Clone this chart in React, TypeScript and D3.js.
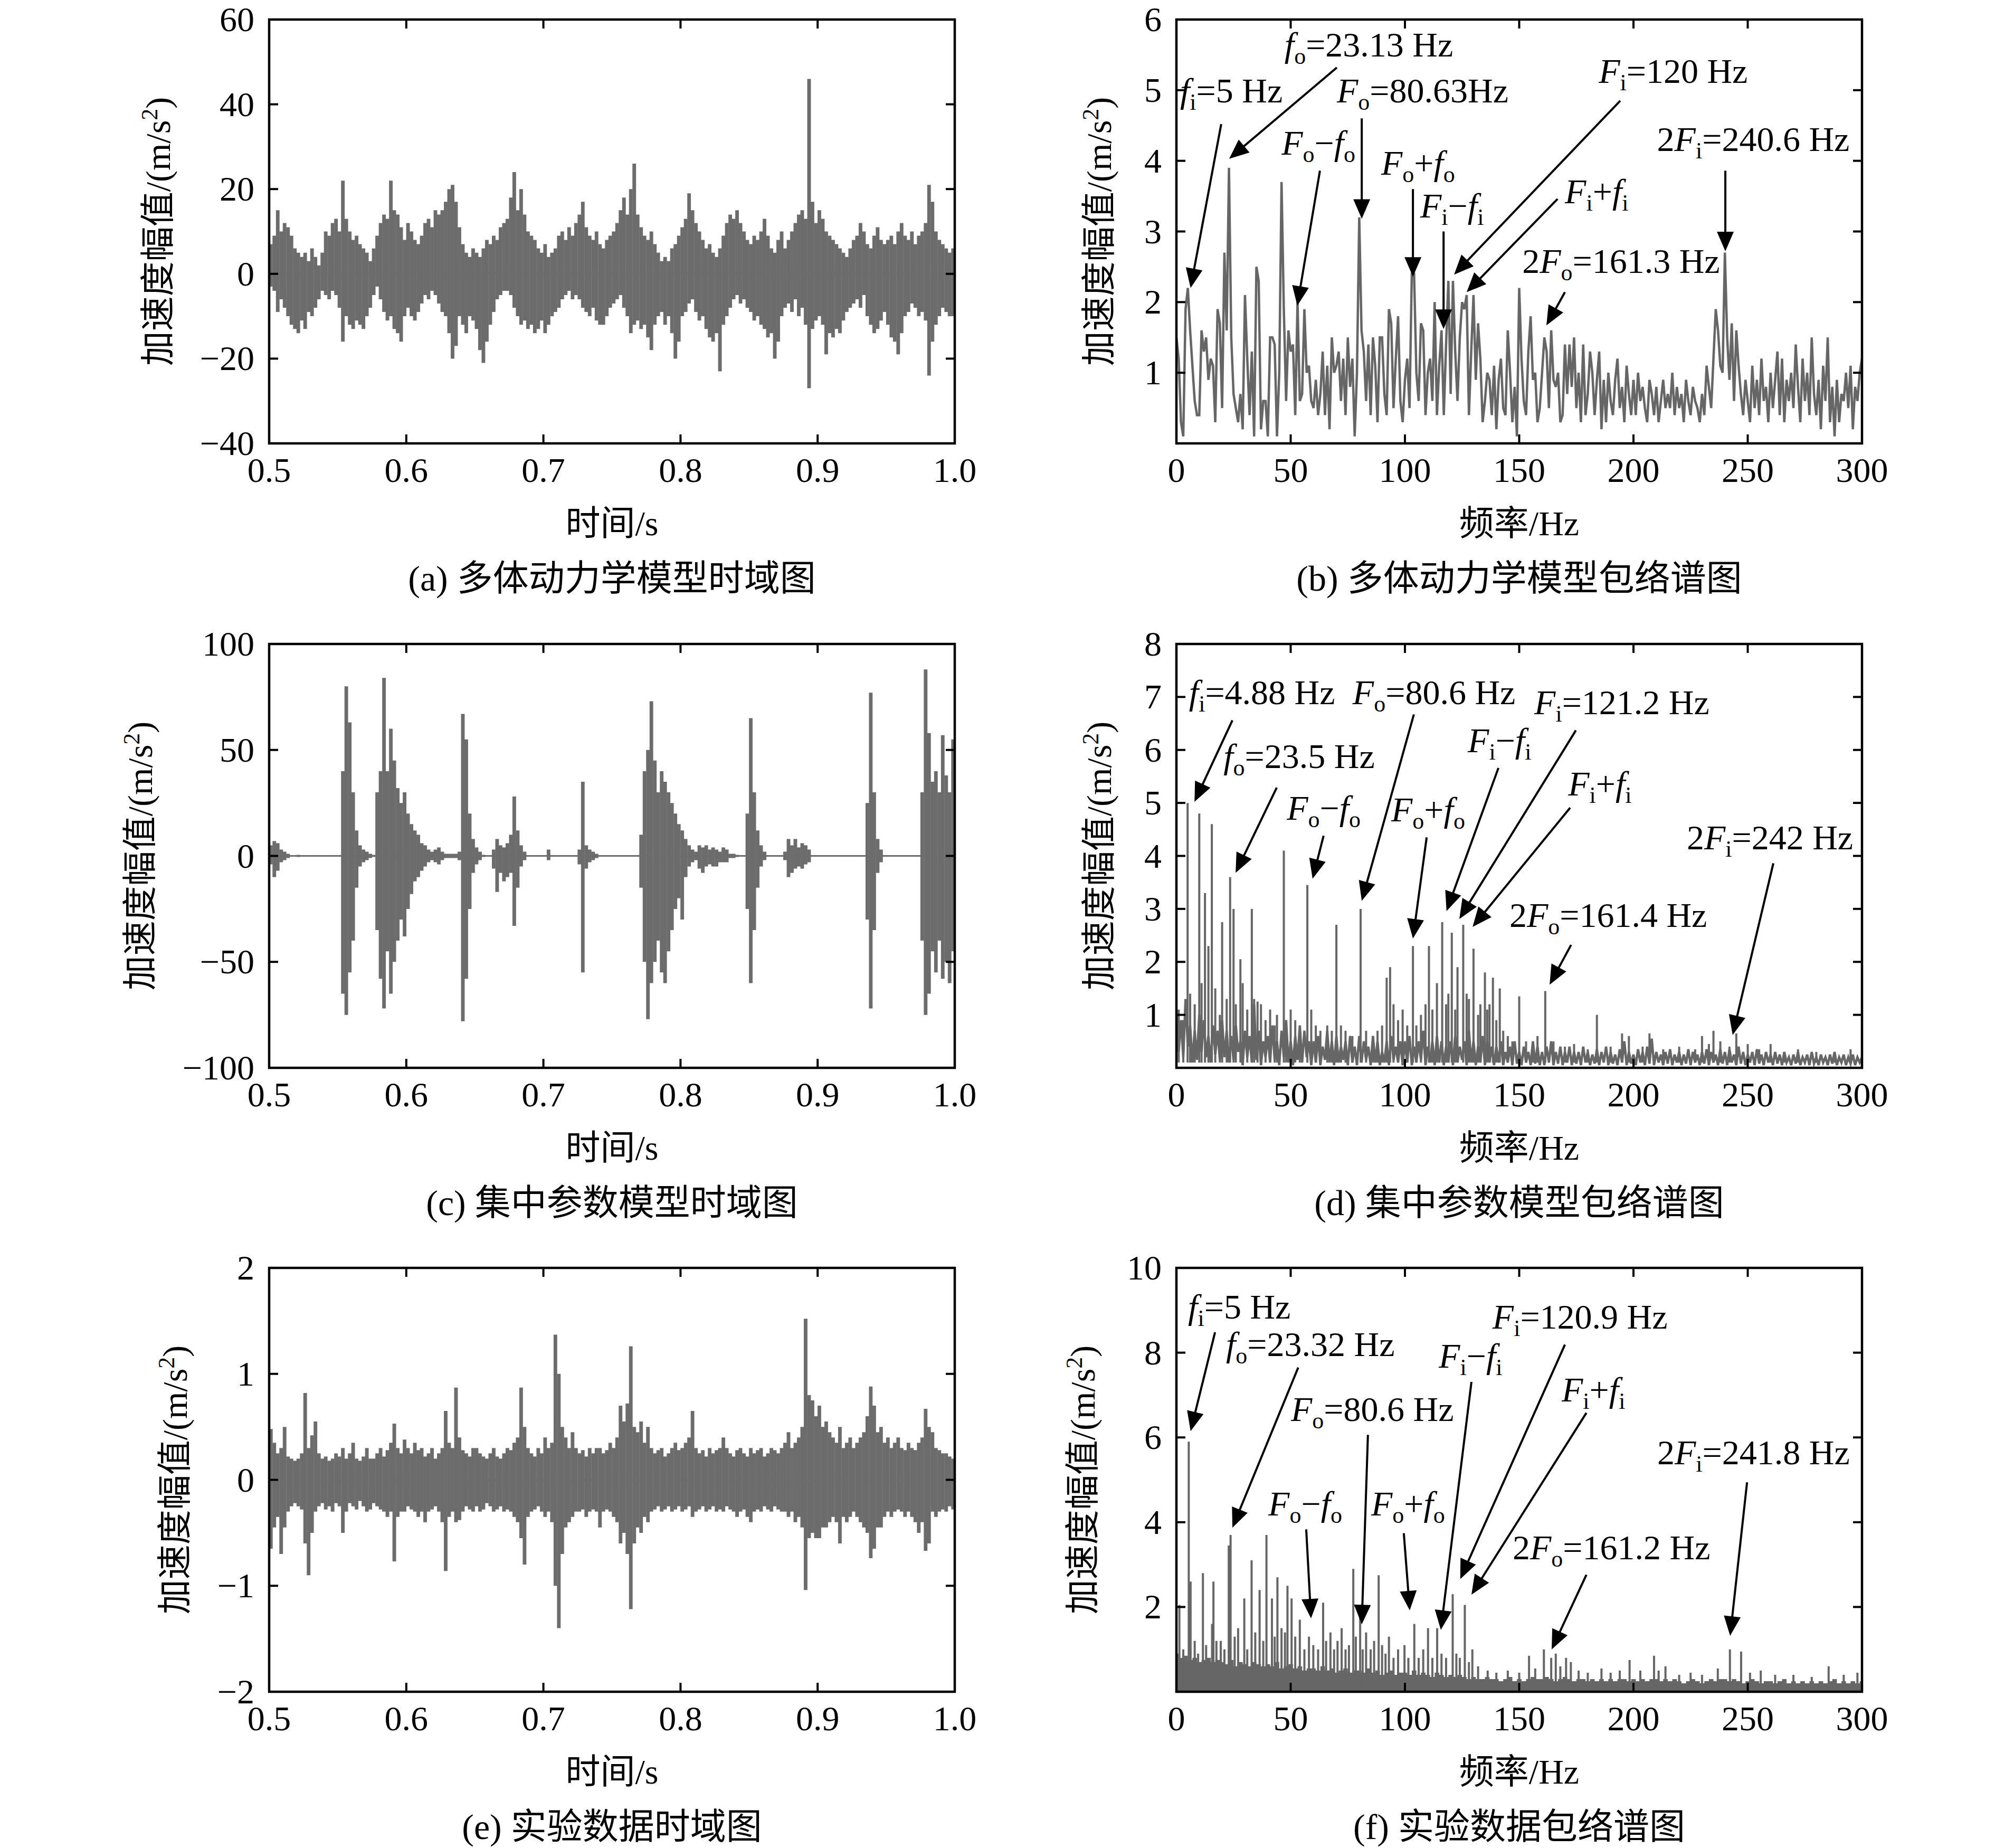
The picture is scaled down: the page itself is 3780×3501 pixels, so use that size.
import React from 'react';
import * as d3 from 'd3';

// ---------------- DATA ----------------
const T_START = 0.5;
const T_STEP = 0.0025;

const timeXTicks = [0.5, 0.6, 0.7, 0.8, 0.9, 1.0];
const freqXTicks = [0, 50, 100, 150, 200, 250, 300];

// (a) multibody model time domain: per-bin max / min (m/s^2)
const aMax = [
  7, 9, 15, 10, 12, 11, 9, 6, 5, 4,
  5, 3, 6, 4, 2, 5, 10, 9, 12, 13,
  10, 22, 13, 10, 8, 9, 7, 6, 5, 3,
  6, 9, 12, 14, 13, 22, 15, 14, 11, 8,
  12, 10, 8, 7, 9, 12, 13, 11, 15, 14,
  15, 17, 20, 21, 17, 11, 7, 5, 4, 6,
  5, 4, 6, 8, 7, 9, 8, 11, 12, 13,
  18, 24, 15, 20, 14, 10, 9, 8, 6, 5,
  7, 4, 5, 6, 9, 10, 8, 11, 9, 12,
  14, 17, 11, 9, 8, 10, 7, 6, 8, 9,
  10, 12, 15, 18, 14, 20, 26, 14, 11, 9,
  8, 10, 7, 5, 3, 4, 3, 6, 7, 9,
  11, 13, 19, 15, 12, 10, 8, 6, 7, 5,
  4, 6, 9, 12, 14, 13, 15, 12, 10, 8,
  7, 9, 8, 10, 13, 9, 6, 5, 8, 10,
  6, 8, 10, 12, 14, 15, 13, 46, 17, 12,
  15, 13, 10, 9, 8, 7, 6, 5, 4, 6,
  8, 9, 12, 10, 7, 6, 9, 11, 8, 7,
  8, 9, 7, 10, 12, 9, 8, 10, 7, 9,
  10, 12, 21, 17, 10, 8, 7, 6, 5, 6,
];
const aMin = [
  -3, -4, -9, -6, -8, -10, -12, -13, -14, -11,
  -13, -9, -10, -8, -6, -4, -5, -6, -4, -5,
  -8, -16, -10, -12, -13, -11, -12, -13, -10, -8,
  -5, -3, -6, -9, -11, -10, -13, -14, -16, -10,
  -8, -10, -11, -9, -7, -5, -6, -4, -5, -7,
  -9, -10, -14, -20, -17, -10, -12, -14, -10, -11,
  -13, -18, -21, -16, -12, -9, -6, -5, -4, -4,
  -5, -8, -10, -12, -11, -13, -12, -14, -13, -11,
  -14, -12, -10, -9, -8, -6, -5, -4, -6, -5,
  -6, -8, -9, -10, -8, -11, -12, -12, -10, -8,
  -7, -6, -5, -8, -10, -14, -12, -11, -13, -12,
  -15, -18, -12, -10, -9, -12, -10, -14, -20, -16,
  -10, -9, -7, -6, -9, -11, -10, -13, -15, -16,
  -14, -23, -12, -10, -8, -6, -5, -7, -6, -8,
  -9, -11, -10, -12, -13, -15, -14, -20, -16, -10,
  -8, -7, -9, -6, -10, -8, -12, -27, -13, -11,
  -10, -12, -19, -14, -15, -13, -14, -11, -9, -8,
  -7, -6, -8, -5, -10, -12, -14, -13, -11, -9,
  -12, -15, -16, -19, -14, -10, -9, -7, -8, -10,
  -9, -11, -24, -16, -12, -10, -8, -9, -10, -10,
];

// (c) lumped parameter model time domain
const cMax = [
  5, 7, 6, 3, 2, 1, 0.3, 0.3, 0.5, 0.3,
  0.3, 0.3, 0.3, 0.3, 0.3, 0.3, 0.3, 0.3, 0.3, 0.3,
  0.3, 40, 80, 63, 30, 12, 5, 3, 2, 1,
  0.5, 30, 40, 84, 40, 60, 45, 32, 25, 30,
  20, 15, 12, 10, 6, 5, 3, 2, 3, 4,
  2, 1, 1, 1, 1, 2, 67, 55, 20, 8,
  4, 2, 0.5, 0.3, 0.3, 3, 8, 5, 4, 6,
  10, 28, 12, 5, 2, 0.3, 0.3, 0.3, 0.3, 0.3,
  0.3, 3, 0.3, 0.3, 0.3, 0.3, 0.3, 0.3, 0.3, 0.3,
  3, 35, 5, 3, 2, 1, 0.3, 0.3, 0.3, 0.3,
  0.3, 0.3, 0.3, 0.3, 0.3, 0.3, 0.3, 0.3, 10, 40,
  50, 73, 45, 30, 40, 35, 30, 25, 20, 15,
  12, 8, 5, 3, 2, 5, 4, 5, 3, 4,
  3, 2, 4, 3, 1, 1, 0.5, 0.3, 0.3, 20,
  65, 30, 12, 5, 2, 0.3, 0.3, 0.3, 0.3, 0.3,
  2, 8, 5, 8, 4, 6, 5, 3, 0.3, 0.3,
  0.3, 0.3, 0.3, 0.3, 0.3, 0.3, 0.3, 0.3, 0.3, 0.3,
  0.3, 0.3, 0.3, 0.3, 25, 77, 30, 8, 3, 0.3,
  0.3, 0.3, 0.3, 0.3, 0.3, 0.3, 0.3, 0.3, 0.3, 0.3,
  30, 88, 58, 35, 40, 30, 57, 38, 30, 55,
];
const cMin = [
  -4, -10, -7, -3, -2, -1, -0.3, -0.3, -0.5, -0.3,
  -0.3, -0.3, -0.3, -0.3, -0.3, -0.3, -0.3, -0.3, -0.3, -0.3,
  -0.3, -65, -75, -55, -40, -15, -5, -3, -2, -1,
  -0.5, -35, -58, -72, -45, -65, -50, -40, -30, -38,
  -25, -18, -12, -10, -7, -5, -3, -2, -3, -4,
  -2, -1, -1, -1, -1, -2, -78, -58, -25, -8,
  -4, -2, -0.5, -0.3, -0.3, -6, -17, -8, -12, -10,
  -8, -33, -15, -5, -2, -0.3, -0.3, -0.3, -0.3, -0.3,
  -0.3, -2, -0.3, -0.3, -0.3, -0.3, -0.3, -0.3, -0.3, -0.3,
  -4, -55, -6, -3, -2, -1, -0.3, -0.3, -0.3, -0.3,
  -0.3, -0.3, -0.3, -0.3, -0.3, -0.3, -0.3, -0.3, -15, -50,
  -77, -60, -50, -40, -55, -60, -45, -35, -25, -20,
  -30, -10, -5, -3, -2, -6, -8, -5, -4, -5,
  -5, -3, -3, -3, -1, -1, -0.5, -0.3, -0.3, -25,
  -60, -35, -15, -5, -2, -0.3, -0.3, -0.3, -0.3, -0.3,
  -2, -10, -8, -6, -5, -6, -4, -3, -0.3, -0.3,
  -0.3, -0.3, -0.3, -0.3, -0.3, -0.3, -0.3, -0.3, -0.3, -0.3,
  -0.3, -0.3, -0.3, -0.3, -30, -72, -35, -8, -3, -0.3,
  -0.3, -0.3, -0.3, -0.3, -0.3, -0.3, -0.3, -0.3, -0.3, -0.3,
  -40, -75, -65, -45, -55, -40, -58, -50, -60, -45,
];

// (e) experimental time domain
const eMax = [
  0.48, 0.35, 0.25, 0.3, 0.5, 0.22, 0.2, 0.18, 0.2, 0.25,
  0.82, 0.3, 0.42, 0.55, 0.25, 0.2, 0.22, 0.18, 0.2, 0.25,
  0.22, 0.3, 0.2, 0.25, 0.35, 0.2, 0.18, 0.22, 0.3, 0.2,
  0.2, 0.25, 0.3, 0.22, 0.28, 0.35, 0.53, 0.3, 0.25, 0.38,
  0.3, 0.25, 0.35, 0.28, 0.3, 0.22, 0.25, 0.3, 0.2, 0.25,
  0.3, 0.65, 0.35, 0.3, 0.87, 0.4, 0.28, 0.25, 0.22, 0.3,
  0.3, 0.25, 0.22, 0.2, 0.25, 0.3, 0.22, 0.2, 0.25, 0.3,
  0.28, 0.35, 0.4, 0.87, 0.5, 0.3, 0.25, 0.22, 0.3, 0.25,
  0.4, 0.3, 0.35, 1.37, 1.0, 0.5, 0.4, 0.3, 0.45, 0.3,
  0.25, 0.28, 0.22, 0.3, 0.25, 0.3, 0.3, 0.25, 0.28, 0.35,
  0.3, 0.4, 0.7, 0.55, 0.72, 1.26, 0.5, 0.45, 0.55, 0.35,
  0.5, 0.3, 0.25, 0.28, 0.3, 0.22, 0.25, 0.3, 0.35, 0.28,
  0.3, 0.35, 0.4, 0.65, 0.3, 0.25, 0.28, 0.22, 0.3, 0.25,
  0.28, 0.3, 0.4, 0.3, 0.25, 0.22, 0.28, 0.3, 0.25, 0.22,
  0.3, 0.25, 0.28, 0.3, 0.22, 0.25, 0.3, 0.28, 0.25, 0.3,
  0.35, 0.45, 0.3, 0.35, 0.4, 0.5, 1.52, 0.8, 0.75, 0.6,
  0.7, 0.5, 0.55, 0.45, 0.4, 0.35, 0.5, 0.3, 0.35, 0.4,
  0.3, 0.35, 0.4, 0.45, 0.6, 0.88, 0.7, 0.45, 0.5, 0.35,
  0.4, 0.3, 0.35, 0.4, 0.3, 0.28, 0.35, 0.3, 0.28, 0.35,
  0.4, 0.67, 0.5, 0.45, 0.3, 0.28, 0.25, 0.25, 0.22, 0.2,
];
const eMin = [
  -0.65, -0.45, -0.35, -0.7, -0.45, -0.3, -0.25, -0.22, -0.25, -0.28,
  -0.6, -0.9, -0.5, -0.3, -0.25, -0.22, -0.28, -0.25, -0.3, -0.22,
  -0.25, -0.5, -0.3, -0.22, -0.25, -0.28, -0.2, -0.25, -0.3, -0.28,
  -0.22, -0.25, -0.28, -0.3, -0.35, -0.3, -0.77, -0.35, -0.3, -0.3,
  -0.25, -0.28, -0.3, -0.35, -0.3, -0.4, -0.3, -0.28, -0.25, -0.3,
  -0.4, -0.86, -0.35, -0.3, -0.4, -0.38, -0.3, -0.25, -0.28, -0.3,
  -0.25, -0.3, -0.28, -0.22, -0.25, -0.3, -0.28, -0.25, -0.3, -0.28,
  -0.3, -0.35, -0.4, -0.55, -0.8, -0.35, -0.3, -0.28, -0.25, -0.3,
  -0.35, -0.3, -0.4, -1.0, -1.4, -0.7, -0.45, -0.4, -0.35, -0.3,
  -0.3, -0.28, -0.35, -0.3, -0.28, -0.3, -0.45, -0.3, -0.28, -0.3,
  -0.35, -0.4, -0.6, -0.5, -0.7, -1.22, -0.6, -0.45, -0.5, -0.35,
  -0.4, -0.3, -0.28, -0.25, -0.3, -0.28, -0.25, -0.3, -0.28, -0.25,
  -0.3, -0.28, -0.25, -0.35, -0.3, -0.28, -0.25, -0.3, -0.28, -0.25,
  -0.3, -0.28, -0.3, -0.25, -0.28, -0.3, -0.35, -0.3, -0.28, -0.35,
  -0.4, -0.3, -0.28, -0.3, -0.25, -0.28, -0.3, -0.25, -0.28, -0.3,
  -0.3, -0.35, -0.3, -0.4, -0.35, -0.45, -1.04, -0.55, -0.5, -0.55,
  -0.55, -0.45, -0.45, -0.4, -0.35, -0.4, -0.6, -0.35, -0.4, -0.35,
  -0.3, -0.35, -0.4, -0.45, -0.5, -0.74, -0.65, -0.45, -0.45, -0.35,
  -0.3, -0.35, -0.3, -0.28, -0.3, -0.35, -0.3, -0.35, -0.4, -0.5,
  -0.4, -0.67, -0.6, -0.3, -0.35, -0.3, -0.28, -0.3, -0.25, -0.28,
];

// (b) multibody envelope spectrum, 1 Hz spacing, 0..300 Hz
const bSpec = [
  1.5, 1.2, 0.3, 0.1, 1.9, 2.2, 1.6, 1.1, 0.6, 0.4,
  0.4, 1.6, 1.3, 1.5, 0.9, 1.2, 1.1, 0.3, 1.9, 1.7,
  0.5, 2.7, 1.6, 3.9, 1.5, 0.7, 0.5, 0.3, 0.7, 0.2,
  2.1, 1.2, 0.4, 1.3, 0.1, 2.5, 2.3, 0.2, 0.6, 0.6,
  0.1, 1.5, 1.5, 1.4, 0.1, 1.0, 3.7, 1.9, 0.6, 1.6,
  1.3, 1.4, 0.4, 2.0, 0.6, 0.7, 1.9, 1.0, 1.1, 0.6,
  0.5, 0.9, 0.4, 0.7, 1.3, 0.4, 1.1, 0.2, 1.5, 1.0,
  1.1, 1.3, 0.6, 1.2, 0.4, 1.5, 0.8, 1.2, 0.1, 1.0,
  3.2, 1.6, 1.3, 0.6, 1.4, 0.4, 1.5, 1.1, 0.3, 1.5,
  1.5, 0.7, 0.4, 1.9, 1.7, 0.5, 1.2, 1.8, 0.6, 0.3,
  0.9, 1.2, 0.5, 2.4, 2.4, 1.0, 0.6, 1.7, 1.6, 0.4,
  1.0, 1.2, 0.6, 2.0, 0.4, 1.1, 1.6, 0.4, 1.4, 2.3,
  0.7, 2.3, 1.3, 0.6, 1.5, 2.0, 1.9, 2.1, 0.4, 1.3,
  2.1, 0.9, 1.7, 1.2, 0.3, 0.6, 1.0, 0.9, 0.4, 1.1,
  0.2, 0.9, 1.2, 0.5, 0.4, 1.6, 1.0, 0.3, 0.8, 0.1,
  2.2, 1.2, 0.6, 0.4, 1.3, 1.8, 0.9, 1.0, 0.3, 0.5,
  1.0, 1.5, 1.3, 0.5, 1.6, 0.9, 0.8, 1.0, 0.3, 0.4,
  1.4, 0.7, 1.4, 0.8, 1.5, 0.5, 1.0, 0.3, 1.4, 0.4,
  0.7, 1.3, 1.0, 0.4, 0.9, 1.3, 0.2, 0.9, 0.3, 1.0,
  0.6, 0.4, 0.9, 1.2, 0.5, 0.8, 0.3, 1.1, 0.7, 0.4,
  0.9, 0.4, 1.0, 0.6, 0.8, 0.5, 0.3, 0.9, 0.7, 0.4,
  0.8, 0.3, 0.6, 0.9, 0.5, 0.7, 0.5, 1.0, 0.4, 0.8,
  0.5, 0.7, 0.3, 0.9, 0.6, 0.4, 0.8, 0.6, 0.5, 0.3,
  0.7, 0.4, 1.1, 0.8, 0.5, 1.2, 1.9, 1.6, 1.1, 1.0,
  2.7, 1.5, 0.9, 1.7, 0.6, 1.6, 1.1, 0.7, 0.4, 0.9,
  0.6, 0.3, 1.1, 0.5, 0.9, 0.4, 1.2, 0.6, 0.8, 0.3,
  1.0, 0.5, 0.9, 1.3, 0.4, 1.2, 0.3, 0.9, 0.6, 1.0,
  0.5, 1.4, 0.8, 0.3, 1.2, 0.6, 1.0, 0.4, 1.5, 0.7,
  0.4, 0.9, 0.2, 1.1, 0.6, 1.5, 0.3, 0.8, 0.1, 0.9,
  0.3, 0.7, 0.6, 1.0, 0.5, 1.1, 0.2, 0.8, 0.6, 1.0,
  1.2,
];

// (d) lumped model envelope spectrum: noise floor (2 Hz spacing) high / low, plus discrete peaks
const dFloorHi = [
  1.1, 0.9, 1.3, 0.8, 0.7, 1.0, 0.9, 0.6, 0.8, 0.7,
  0.9, 0.7, 0.6, 0.8, 0.5, 0.7, 0.6, 1.2, 0.7, 0.5,
  0.6, 0.8, 0.5, 0.7, 0.9, 0.5, 0.6, 0.8, 0.7, 0.5,
  0.5, 0.6, 0.4, 0.7, 0.5, 0.6, 0.4, 0.5, 0.6, 0.4,
  0.6, 0.5, 0.4, 0.6, 0.5, 0.3, 0.5, 0.6, 0.4, 0.5,
  0.5, 0.6, 0.4, 0.5, 0.7, 0.4, 0.5, 0.6, 0.5, 0.4,
  0.5, 0.6, 0.4, 0.5, 0.7, 0.5, 0.4, 0.6, 0.5, 0.4,
  0.4, 0.5, 0.3, 0.4, 0.5, 0.3, 0.4, 0.3, 0.5, 0.4,
  0.3, 0.4, 0.5, 0.3, 0.4, 0.3, 0.4, 0.3, 0.3, 0.4,
  0.3, 0.25, 0.35, 0.3, 0.4, 0.3, 0.25, 0.35, 0.5, 0.3,
  0.25, 0.35, 0.3, 0.4, 0.55, 0.3, 0.25, 0.3, 0.35, 0.25,
  0.3, 0.25, 0.35, 0.3, 0.25, 0.3, 0.35, 0.3, 0.25, 0.35,
  0.3, 0.35, 0.25, 0.4, 0.3, 0.25, 0.3, 0.35, 0.25, 0.3,
  0.25, 0.3, 0.25, 0.3, 0.2, 0.25, 0.3, 0.2, 0.25, 0.3,
  0.2, 0.25, 0.2, 0.25, 0.3, 0.2, 0.25, 0.2, 0.25, 0.2,
  0.2,
];
const dFloorLo = [
  0.3, 0.2, 0.4, 0.1, 0.15, 0.3, 0.2, 0.1, 0.25, 0.15,
  0.2, 0.1, 0.15, 0.3, 0.05, 0.2, 0.1, 0.15, 0.05, 0.2,
  0.1, 0.15, 0.05, 0.2, 0.1, 0.05, 0.15, 0.1, 0.2, 0.05,
  0.1, 0.05, 0.15, 0.1, 0.05, 0.1, 0.15, 0.05, 0.1, 0.05,
  0.1, 0.15, 0.05, 0.1, 0.05, 0.1, 0.05, 0.15, 0.1, 0.05,
  0.1, 0.05, 0.1, 0.15, 0.05, 0.1, 0.05, 0.1, 0.05, 0.1,
  0.05, 0.1, 0.15, 0.05, 0.1, 0.05, 0.1, 0.05, 0.1, 0.05,
  0.1, 0.05, 0.1, 0.05, 0.08, 0.05, 0.1, 0.05, 0.08, 0.05,
  0.05, 0.1, 0.05, 0.08, 0.05, 0.1, 0.05, 0.08, 0.05, 0.1,
  0.05, 0.08, 0.05, 0.1, 0.05, 0.08, 0.05, 0.1, 0.05, 0.08,
  0.05, 0.1, 0.05, 0.08, 0.05, 0.1, 0.05, 0.08, 0.05, 0.1,
  0.05, 0.08, 0.05, 0.1, 0.05, 0.08, 0.05, 0.1, 0.05, 0.08,
  0.05, 0.1, 0.05, 0.08, 0.05, 0.1, 0.05, 0.08, 0.05, 0.1,
  0.05, 0.08, 0.05, 0.1, 0.05, 0.08, 0.05, 0.1, 0.05, 0.08,
  0.05, 0.1, 0.05, 0.08, 0.05, 0.1, 0.05, 0.08, 0.05, 0.1,
  0.05,
];
const dPeaks: [number, number][] = [
  [1, 1.1], [3, 0.9], [4.9, 5.0], [6, 1.4], [8, 1.2], [10, 4.8], [11, 1.6], [12.5, 3.3], [14, 2.3],
  [15.5, 4.6], [17, 1.5], [19, 1.0], [20, 2.75], [22, 1.3], [23.5, 3.6], [25, 3.0], [26, 1.2], [28, 2.05],
  [29, 1.6], [31, 1.1], [33, 3.0], [34, 1.3], [35.5, 1.25], [37, 1.2], [39, 0.9], [41, 1.1], [43, 0.8],
  [44, 1.0], [47, 4.1], [48, 0.9], [50, 1.1], [52, 0.9], [54, 0.7], [57.3, 3.45], [59, 1.1], [61, 0.8],
  [63, 0.7], [66, 0.8], [68, 0.7], [70, 2.7], [72, 0.8], [74, 0.7], [77, 0.6], [80.6, 3.0], [83, 0.7],
  [86, 0.6], [88, 0.7], [90, 0.8], [92, 1.7], [93.5, 1.9], [95, 1.2], [97, 0.9], [99, 1.1], [101, 0.8],
  [103.5, 2.3], [105, 0.8], [107, 1.0], [109, 1.2], [110.5, 2.3], [112, 1.1], [114, 1.6], [116.3, 2.75],
  [118, 1.2], [119, 1.4], [120.5, 2.55], [122, 1.1], [123, 1.9], [125.5, 2.7], [127, 1.4], [128, 1.3],
  [130, 2.25], [132, 1.0], [133, 1.2], [135, 1.8], [136, 1.1], [137, 1.2], [138.5, 1.7], [140, 0.9],
  [141.5, 1.5], [143, 0.7], [145, 0.6], [147, 0.5], [150, 1.35], [153, 0.5], [156, 0.45], [158, 0.6],
  [161.4, 1.45], [165, 0.5], [170, 0.4], [174, 0.45], [180, 0.35], [184, 1.0], [190, 0.4], [195, 0.65],
  [198, 0.6], [204, 0.4], [207, 0.65], [213, 0.35], [220, 0.4], [227, 0.35], [230, 0.6], [233, 0.45],
  [235, 0.7], [238, 0.5], [242, 0.4], [245, 0.65], [250, 0.45], [255, 0.35], [260, 0.45], [266, 0.3],
  [272, 0.35], [280, 0.3], [288, 0.3], [295, 0.35],
];

// (f) experimental envelope spectrum: floor (2 Hz spacing) + discrete lines
const fFloor = [
  0.9, 0.8, 0.85, 0.75, 0.8, 0.7, 0.75, 0.8, 0.7, 0.75,
  0.7, 0.65, 0.75, 0.6, 0.7, 0.65, 0.6, 0.7, 0.65, 0.6,
  0.65, 0.6, 0.7, 0.55, 0.6, 0.65, 0.55, 0.6, 0.5, 0.55,
  0.55, 0.5, 0.6, 0.5, 0.55, 0.45, 0.5, 0.55, 0.45, 0.5,
  0.5, 0.45, 0.55, 0.45, 0.5, 0.4, 0.45, 0.5, 0.4, 0.45,
  0.45, 0.4, 0.5, 0.4, 0.45, 0.4, 0.35, 0.45, 0.4, 0.35,
  0.4, 0.35, 0.4, 0.35, 0.3, 0.35, 0.3, 0.3, 0.35, 0.3,
  0.3, 0.25, 0.3, 0.35, 0.25, 0.3, 0.25, 0.3, 0.35, 0.3,
  0.3, 0.35, 0.3, 0.25, 0.3, 0.35, 0.3, 0.25, 0.3, 0.3,
  0.25, 0.3, 0.25, 0.3, 0.25, 0.3, 0.25, 0.3, 0.3, 0.25,
  0.3, 0.25, 0.3, 0.25, 0.3, 0.3, 0.25, 0.3, 0.25, 0.3,
  0.25, 0.2, 0.25, 0.3, 0.25, 0.2, 0.25, 0.3, 0.25, 0.3,
  0.3, 0.25, 0.3, 0.25, 0.2, 0.25, 0.3, 0.25, 0.2, 0.25,
  0.25, 0.2, 0.25, 0.3, 0.2, 0.25, 0.2, 0.25, 0.2, 0.25,
  0.2, 0.25, 0.2, 0.25, 0.3, 0.2, 0.25, 0.2, 0.25, 0.2,
  0.25,
];
const fPeaks: [number, number][] = [
  [1.3, 2.05], [3, 1.0], [5.4, 5.9], [6.2, 2.6], [8, 1.2], [9.5, 0.9], [11.6, 2.8], [13, 1.1], [15.6, 1.6],
  [16.2, 2.6], [17.5, 1.2], [19.4, 1.2], [21, 1.0], [22.9, 3.45], [23.7, 3.7], [25.5, 1.3], [27, 1.5],
  [29.7, 2.2], [31, 1.0], [32.9, 3.1], [34.5, 1.4], [36.4, 2.4], [38, 1.2], [39.4, 3.7], [41.8, 2.2],
  [43, 1.3], [44.2, 2.7], [46, 1.5], [47.5, 1.4], [48.6, 2.5], [50.4, 2.2], [52, 1.3], [54, 1.7], [56, 1.0],
  [58, 1.3], [59.9, 1.1], [62, 1.0], [64.2, 2.1], [65.5, 1.2], [67.4, 1.4], [69, 1.0], [70.5, 1.2],
  [72.3, 1.5], [74, 1.0], [75.5, 1.1], [77.4, 2.9], [78.5, 1.3], [80.4, 1.9], [81.5, 1.0], [83, 1.4],
  [85, 1.0], [86.5, 1.2], [88.5, 2.75], [90, 1.1], [91.5, 0.9], [93, 1.3], [95, 0.8], [97, 1.0], [99.8, 1.1],
  [101.5, 0.8], [104.1, 1.6], [106, 0.8], [108, 1.0], [110.1, 1.5], [112, 0.8], [114.1, 1.5], [116, 0.9],
  [118, 0.8], [120.9, 2.3], [122.5, 0.9], [124, 0.8], [126.2, 2.05], [128, 0.7], [129.5, 1.0], [132, 0.6],
  [136.2, 0.5], [140, 0.45], [145, 0.5], [150, 0.45], [154.3, 0.85], [157, 0.55], [160.8, 1.0], [164, 0.8],
  [166, 0.9], [168, 0.6], [170.5, 0.8], [172.6, 0.7], [176, 0.5], [180, 0.45], [186, 0.55], [190, 0.45],
  [194, 0.5], [198.3, 0.75], [203, 0.5], [209, 0.85], [211, 0.5], [214, 0.6], [220, 0.4], [225, 0.45],
  [230, 0.4], [236.9, 0.55], [242.2, 1.0], [247.1, 0.95], [251, 0.45], [255.7, 0.5], [262, 0.4], [270, 0.4],
  [278, 0.35], [285.4, 0.6], [292, 0.4], [298, 0.45],
];

// Annotations: label markup (~X italic, _X subscript), text anchor (Hz, value), arrow start -> tip
type Annot = { label: string; tx: number; ty: number; x1: number; y1: number; x2: number; y2: number };
const bAnnots: Annot[] = [
  { label: '~f_i=5 Hz', tx: 1.6, ty: 4.83, x1: 19.6, y1: 4.52, x2: 6.2, y2: 2.2 },
  { label: '~f_o=23.13 Hz', tx: 47.3, ty: 5.48, x1: 70.2, y1: 5.32, x2: 23.1, y2: 4.03 },
  { label: '~F_o=80.63Hz', tx: 70.2, ty: 4.83, x1: 81.1, y1: 4.6, x2: 81.1, y2: 3.18 },
  { label: '~F_o−~f_o', tx: 46, ty: 4.09, x1: 62.8, y1: 3.86, x2: 52.9, y2: 1.95 },
  { label: '~F_o+~f_o', tx: 89.6, ty: 3.8, x1: 103.5, y1: 3.6, x2: 103.5, y2: 2.36 },
  { label: '~F_i−~f_i', tx: 106.7, ty: 3.2, x1: 116.9, y1: 3.0, x2: 116.9, y2: 1.62 },
  { label: '~F_i=120 Hz', tx: 184.8, ty: 5.1, x1: 194.2, y1: 4.85, x2: 121.5, y2: 2.39 },
  { label: '~F_i+~f_i', tx: 170, ty: 3.4, x1: 166.8, y1: 3.46, x2: 127, y2: 2.14 },
  { label: '2~F_o=161.3 Hz', tx: 151.3, ty: 2.41, x1: 170, y1: 2.14, x2: 161.9, y2: 1.67 },
  { label: '2~F_i=240.6 Hz', tx: 210.3, ty: 4.14, x1: 240.2, y1: 3.86, x2: 240.2, y2: 2.72 },
];
const dAnnots: Annot[] = [
  { label: '~f_i=4.88 Hz', tx: 5.5, ty: 6.86, x1: 24.5, y1: 6.56, x2: 7.9, y2: 5.02 },
  { label: '~f_o=23.5 Hz', tx: 20.6, ty: 5.66, x1: 43.9, y1: 5.29, x2: 25.9, y2: 3.68 },
  { label: '~F_o=80.6 Hz', tx: 77.1, ty: 6.86, x1: 103.9, y1: 6.67, x2: 81.1, y2: 3.15 },
  { label: '~F_o−~f_o', tx: 48.3, ty: 4.68, x1: 64.4, y1: 4.38, x2: 59.6, y2: 3.57 },
  { label: '~F_o+~f_o', tx: 94, ty: 4.65, x1: 109.5, y1: 4.35, x2: 103.5, y2: 2.44 },
  { label: '~F_i−~f_i', tx: 127.5, ty: 5.96, x1: 140.9, y1: 5.66, x2: 118.2, y2: 2.96 },
  { label: '~F_i=121.2 Hz', tx: 156.6, ty: 6.67, x1: 174.8, y1: 6.37, x2: 123.8, y2: 2.81 },
  { label: '~F_i+~f_i', tx: 171.4, ty: 5.14, x1: 172.3, y1: 4.91, x2: 129.6, y2: 2.66 },
  { label: '2~F_o=161.4 Hz', tx: 145.7, ty: 2.66, x1: 172.7, y1: 2.32, x2: 163.3, y2: 1.57 },
  { label: '2~F_i=242 Hz', tx: 223.3, ty: 4.12, x1: 261.2, y1: 3.86, x2: 243.4, y2: 0.62 },
];
const fAnnots: Annot[] = [
  { label: '~f_i=5 Hz', tx: 5.1, ty: 8.8, x1: 16.9, y1: 8.48, x2: 6.2, y2: 6.15 },
  { label: '~f_o=23.32 Hz', tx: 21.7, ty: 7.92, x1: 53.3, y1: 7.65, x2: 24.5, y2: 3.87 },
  { label: '~F_o=80.6 Hz', tx: 50.1, ty: 6.39, x1: 83.8, y1: 6.06, x2: 81.1, y2: 1.59 },
  { label: '~F_o−~f_o', tx: 40.2, ty: 4.16, x1: 56.8, y1: 3.83, x2: 58.9, y2: 1.73 },
  { label: '~F_o+~f_o', tx: 85.2, ty: 4.16, x1: 99.5, y1: 3.74, x2: 102.1, y2: 1.92 },
  { label: '~F_i−~f_i', tx: 114.8, ty: 7.65, x1: 129.1, y1: 7.31, x2: 115.7, y2: 1.46 },
  { label: '~F_i=120.9 Hz', tx: 138.3, ty: 8.57, x1: 170, y1: 8.19, x2: 124.2, y2: 2.66 },
  { label: '~F_i+~f_i', tx: 168.6, ty: 6.85, x1: 179.4, y1: 6.58, x2: 129.1, y2: 2.29 },
  { label: '2~F_o=161.2 Hz', tx: 147.1, ty: 3.12, x1: 179.4, y1: 2.76, x2: 164.2, y2: 1.0 },
  { label: '2~F_i=241.8 Hz', tx: 210.4, ty: 5.37, x1: 249.7, y1: 4.94, x2: 242.3, y2: 1.32 },
];

const captions = [
  '(a) 多体动力学模型时域图',
  '(b) 多体动力学模型包络谱图',
  '(c) 集中参数模型时域图',
  '(d) 集中参数模型包络谱图',
  '(e) 实验数据时域图',
  '(f) 实验数据包络谱图',
];
const timeTitle = '时间/s';
const freqTitle = '频率/Hz';

// ---------------- LAYOUT / STYLE ----------------
const W = 3780;
const H = 3501;
const FONT = "'Liberation Serif','Times New Roman','Noto Sans CJK SC',serif";
const COLS = [{ x0: 510, x1: 1809 }, { x0: 2229, x1: 3528 }];
const ROWS = [37, 1220, 2402];
const PH = 803;
const GRAY = '#666666';
const TIME_GRAY = '#6c6c6c';
const FS = 66;
const TICK = 17;

function parseLabel(s: string) {
  const segs: { t: string; it: boolean; sub: boolean }[] = [];
  let buf = '';
  const flush = () => { if (buf) { segs.push({ t: buf, it: false, sub: false }); buf = ''; } };
  for (let i = 0; i < s.length; i++) {
    const c = s[i];
    if (c === '~') { flush(); segs.push({ t: s[i + 1], it: true, sub: false }); i++; }
    else if (c === '_') { flush(); segs.push({ t: s[i + 1], it: false, sub: true }); i++; }
    else buf += c;
  }
  flush();
  return segs;
}

function RichText({ x, y, label }: { x: number; y: number; label: string }) {
  const segs = parseLabel(label);
  const SHIFT = 14;
  let prevSub = false;
  return (
    <text x={x} y={y} fontFamily={FONT} fontSize={FS} fill="#000">
      {segs.map((s, i) => {
        let dy = 0;
        if (s.sub && !prevSub) dy = SHIFT;
        if (!s.sub && prevSub) dy = -SHIFT;
        prevSub = s.sub;
        return (
          <tspan key={i} dy={dy} fontStyle={s.it ? 'italic' : 'normal'} fontSize={s.sub ? 44 : FS}>
            {s.t}
          </tspan>
        );
      })}
    </text>
  );
}

function Arrow({ x1, y1, x2, y2 }: { x1: number; y1: number; x2: number; y2: number }) {
  const dx = x2 - x1, dy = y2 - y1;
  const len = Math.hypot(dx, dy);
  const ux = dx / len, uy = dy / len;
  const L = 37, HW = 16;
  const bx = x2 - ux * L, by = y2 - uy * L;
  const px = -uy, py = ux;
  return (
    <g>
      <line x1={x1} y1={y1} x2={bx + ux * 2} y2={by + uy * 2} stroke="#000" strokeWidth={4} />
      <polygon points={`${x2},${y2} ${bx + px * HW},${by + py * HW} ${bx - px * HW},${by - py * HW}`} fill="#000" />
    </g>
  );
}

function Frame({ x, y, xTicks, yTicks, xFmt, yFmt, xTitle, caption, yLabelX, id, children }: any) {
  const x0 = x.range()[0];
  const x1 = x.range()[1];
  const y1 = y.range()[0];
  const y0 = y.range()[1];
  const cx = (x0 + x1) / 2;
  const cy = (y0 + y1) / 2;
  return (
    <g>
      <clipPath id={id}>
        <rect x={x0} y={y0} width={x1 - x0} height={y1 - y0} />
      </clipPath>
      <g clipPath={`url(#${id})`}>{children}</g>
      {xTicks.map((t: number) => (
        <g key={'xt' + t}>
          <line x1={x(t)} x2={x(t)} y1={y1} y2={y1 - TICK} stroke="#000" strokeWidth={4} />
          <line x1={x(t)} x2={x(t)} y1={y0} y2={y0 + TICK} stroke="#000" strokeWidth={4} />
          <text x={x(t)} y={y1 + 73} textAnchor="middle" fontFamily={FONT} fontSize={FS}>{xFmt(t)}</text>
        </g>
      ))}
      {yTicks.map((t: number) => (
        <g key={'yt' + t}>
          <line x1={x0} x2={x0 + TICK} y1={y(t)} y2={y(t)} stroke="#000" strokeWidth={4} />
          <line x1={x1} x2={x1 - TICK} y1={y(t)} y2={y(t)} stroke="#000" strokeWidth={4} />
          <text x={x0 - 28} y={y(t) + 22} textAnchor="end" fontFamily={FONT} fontSize={FS}>{yFmt(t)}</text>
        </g>
      ))}
      <rect x={x0} y={y0} width={x1 - x0} height={y1 - y0} fill="none" stroke="#000" strokeWidth={4.5} />
      <text x={cx} y={y1 + 174} textAnchor="middle" fontFamily={FONT} fontSize={FS}>{xTitle}</text>
      <text x={cx} y={y1 + 279} textAnchor="middle" fontFamily={FONT} fontSize={68}>{caption}</text>
      <text transform={`translate(${yLabelX},${cy}) rotate(-90)`} textAnchor="middle" fontFamily={FONT} fontSize={FS}>
        加速度幅值/(m/s<tspan dy={-24} fontSize={44}>2</tspan><tspan dy={24}>)</tspan>
      </text>
    </g>
  );
}

function TimePanel({ row, col, dom, ticks, mx, mn, caption, yLabelX, id }: any) {
  const top = ROWS[row];
  const x = d3.scaleLinear().domain([0.5, 1.0]).range([COLS[col].x0, COLS[col].x1]);
  const y = d3.scaleLinear().domain(dom).range([top + PH, top]);
  const binPx = x(T_START + T_STEP) - x(T_START);
  const fmt = d3.format('.1f');
  return (
    <Frame x={x} y={y} xTicks={timeXTicks} yTicks={ticks} xFmt={fmt} yFmt={d3.format('')}
      xTitle={timeTitle} caption={caption} yLabelX={yLabelX} id={id}>
      <line x1={x(0.5)} x2={x(1.0)} y1={y(0)} y2={y(0)} stroke={TIME_GRAY} strokeWidth={3} />
      {mx.map((v: number, i: number) => {
        const tc = T_START + (i + 0.5) * T_STEP;
        return (
          <line key={i} x1={x(tc)} x2={x(tc)} y1={y(v)} y2={y(mn[i])} stroke={TIME_GRAY} strokeWidth={binPx + 0.4} />
        );
      })}
    </Frame>
  );
}

function SpecPanel({ row, ymax, ticks, caption, yLabelX, id, annots, children }: any) {
  const top = ROWS[row];
  const x = d3.scaleLinear().domain([0, 300]).range([COLS[1].x0, COLS[1].x1]);
  const y = d3.scaleLinear().domain([0, ymax]).range([top + PH, top]);
  return (
    <g>
      <Frame x={x} y={y} xTicks={freqXTicks} yTicks={ticks} xFmt={d3.format('')} yFmt={d3.format('')}
        xTitle={freqTitle} caption={caption} yLabelX={yLabelX} id={id}>
        {children(x, y)}
      </Frame>
      {annots.map((a: Annot, i: number) => (
        <g key={i}>
          <RichText x={x(a.tx)} y={y(a.ty)} label={a.label} />
          <Arrow x1={x(a.x1)} y1={y(a.y1)} x2={x(a.x2)} y2={y(a.y2)} />
        </g>
      ))}
    </g>
  );
}

export default function App() {
  return (
    <svg width={W} height={H} viewBox={`0 0 ${W} ${H}`} style={{ position: 'absolute', left: 0, top: 0, background: '#fff' }}>
      <rect x={0} y={0} width={W} height={H} fill="#fff" />
      <TimePanel row={0} col={0} dom={[-40, 60]} ticks={[-40, -20, 0, 20, 40, 60]} mx={aMax} mn={aMin}
        caption={captions[0]} yLabelX={322} id="ca" />
      <TimePanel row={1} col={0} dom={[-100, 100]} ticks={[-100, -50, 0, 50, 100]} mx={cMax} mn={cMin}
        caption={captions[2]} yLabelX={288} id="cc" />
      <TimePanel row={2} col={0} dom={[-2, 2]} ticks={[-2, -1, 0, 1, 2]} mx={eMax} mn={eMin}
        caption={captions[4]} yLabelX={354} id="ce" />

      <SpecPanel row={0} ymax={6} ticks={[1, 2, 3, 4, 5, 6]} caption={captions[1]} yLabelX={2105} id="cb" annots={bAnnots}>
        {(x: any, y: any) => {
          const line = d3.line<number>().x((_, i) => x(i)).y((d) => y(d));
          return <path d={line(bSpec) || ''} fill="none" stroke={GRAY} strokeWidth={4.5} strokeLinejoin="miter" />;
        }}
      </SpecPanel>

      <SpecPanel row={1} ymax={8} ticks={[1, 2, 3, 4, 5, 6, 7, 8]} caption={captions[3]} yLabelX={2105} id="cd" annots={dAnnots}>
        {(x: any, y: any) => {
          const pts: [number, number][] = [];
          dFloorHi.forEach((v, k) => {
            pts.push([2 * k, v]);
            if (k < dFloorLo.length - 1) pts.push([2 * k + 1, dFloorLo[k]]);
          });
          const line = d3.line<[number, number]>().x((d) => x(d[0])).y((d) => y(d[1]));
          return (
            <g>
              <path d={line(pts) || ''} fill="none" stroke={GRAY} strokeWidth={4.5} strokeLinejoin="miter" />
              {dPeaks.map(([f, a], i) => (
                <line key={i} x1={x(f)} x2={x(f)} y1={y(0.1)} y2={y(a)} stroke={GRAY} strokeWidth={4} />
              ))}
            </g>
          );
        }}
      </SpecPanel>

      <SpecPanel row={2} ymax={10} ticks={[2, 4, 6, 8, 10]} caption={captions[5]} yLabelX={2074} id="cf" annots={fAnnots}>
        {(x: any, y: any) => {
          const area = d3.area<number>().x((_, k) => x(2 * k)).y0(y(0)).y1((d) => y(d)).curve(d3.curveStep);
          return (
            <g>
              <path d={area(fFloor) || ''} fill={GRAY} />
              {fPeaks.map(([f, a], i) => (
                <line key={i} x1={x(f)} x2={x(f)} y1={y(0)} y2={y(a)} stroke={GRAY} strokeWidth={4} />
              ))}
            </g>
          );
        }}
      </SpecPanel>
    </svg>
  );
}
